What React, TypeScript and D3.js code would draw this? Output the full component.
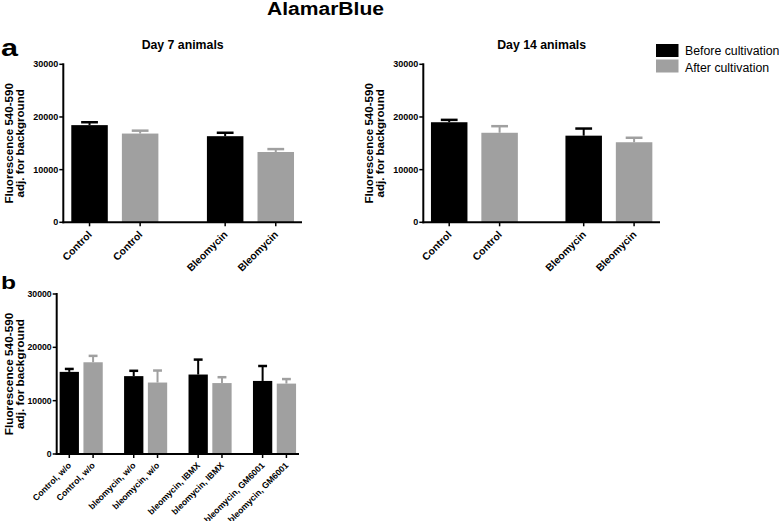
import React from "react";
import * as d3 from "d3";

// ---- data ----
const seriesNames = ["Before cultivation", "After cultivation"];
const seriesColors = ["#000000", "#a0a0a0"];
const yTickValues = [0, 10000, 20000, 30000];

const panelACategories = ["Control", "Bleomycin"];
const day7Before = [18450, 16350];
const day7BeforeErr = [550, 650];
const day7After = [16850, 13350];
const day7AfterErr = [550, 550];

const day14Before = [19000, 16450];
const day14BeforeErr = [450, 1350];
const day14After = [17000, 15200];
const day14AfterErr = [1250, 850];

const panelBCategories = ["Control, w/o", "bleomycin, w/o", "bleomycin, IBMX", "bleomycin, GM6001"];
const bBefore = [15400, 14600, 14900, 13700];
const bBeforeErr = [550, 1000, 2800, 2800];
const bAfter = [17200, 13400, 13300, 13200];
const bAfterErr = [1200, 2250, 1100, 850];

const FONT = "'Liberation Sans', Arial, Helvetica, sans-serif";

type PanelProps = {
  x0: number; x1: number; yTop: number; yBottom: number;
  groups: string[];
  before: number[]; beforeErr: number[];
  after: number[]; afterErr: number[];
  barWidth: number; innerHalf: number;
  labelSize: number; tickFont: number;
  title?: string;
  yTitleOff1: number; yTitleOff2: number; yTitleSize: number;
  labelDx: number; labelDy: number;
};

function Panel(p: PanelProps) {
  const y = d3.scaleLinear().domain([0, 30000]).range([p.yBottom, p.yTop]);
  const gx = d3.scalePoint<string>().domain(p.groups).range([p.x0, p.x1]).padding(0.38);
  const sx = d3.scalePoint<string>().domain(seriesNames).range([-p.innerHalf, p.innerHalf]);
  const vals = [p.before, p.after];
  const errs = [p.beforeErr, p.afterErr];
  const capW = p.barWidth * 0.46;
  const bars: any[] = [];
  p.groups.forEach((g, gi) => {
    seriesNames.forEach((s, si) => {
      const cx = (gx(g) as number) + (sx(s) as number);
      bars.push({ g, s, si, cx, v: vals[si][gi], e: errs[si][gi] });
    });
  });
  const yMid = (p.yTop + p.yBottom) / 2;
  return (
    <g>
      {p.title && (
        <text x={(p.x0 + p.x1) / 2} y={p.yTop - 15} textAnchor="middle" fontFamily={FONT}
          fontWeight="bold" fontSize={12.3}>{p.title}</text>
      )}
      {/* y axis title */}
      <text transform={`translate(${p.x0 - p.yTitleOff1},${yMid}) rotate(-90)`} textAnchor="middle"
        fontFamily={FONT} fontWeight="bold" fontSize={p.yTitleSize}>Fluorescence 540-590</text>
      <text transform={`translate(${p.x0 - p.yTitleOff2},${yMid}) rotate(-90)`} textAnchor="middle"
        fontFamily={FONT} fontWeight="bold" fontSize={p.yTitleSize}>adj. for background</text>
      {/* bars */}
      {bars.map((b, i) => (
        <g key={i}>
          <line x1={b.cx} x2={b.cx} y1={y(b.v)} y2={y(b.v + b.e)} stroke={seriesColors[b.si]} strokeWidth={2} />
          <line x1={b.cx - capW / 2} x2={b.cx + capW / 2} y1={y(b.v + b.e)} y2={y(b.v + b.e)}
            stroke={seriesColors[b.si]} strokeWidth={2.5} />
          <rect x={b.cx - p.barWidth / 2} y={y(b.v)} width={p.barWidth} height={y(0) - y(b.v)}
            fill={seriesColors[b.si]} />
        </g>
      ))}
      {/* y axis */}
      <line x1={p.x0} x2={p.x0} y1={p.yTop - 1} y2={p.yBottom + 1} stroke="#000" strokeWidth={2} />
      {yTickValues.map((t) => (
        <g key={t}>
          <line x1={p.x0 - 4} x2={p.x0} y1={y(t)} y2={y(t)} stroke="#000" strokeWidth={1.5} />
          <text x={p.x0 - 5} y={y(t)} dy="0.35em" textAnchor="end" fontFamily={FONT}
            fontWeight="bold" fontSize={p.tickFont}>{t}</text>
        </g>
      ))}
      {/* x axis */}
      <line x1={p.x0 - 1} x2={p.x1} y1={p.yBottom} y2={p.yBottom} stroke="#000" strokeWidth={2} />
      {bars.map((b, i) => (
        <g key={"t" + i}>
          <line x1={b.cx} x2={b.cx} y1={p.yBottom} y2={p.yBottom + 4} stroke="#000" strokeWidth={1.5} />
          <text transform={`translate(${b.cx + p.labelDx},${p.yBottom + p.labelDy}) rotate(-45)`}
            textAnchor="end" fontFamily={FONT} fontWeight="bold" fontSize={p.labelSize}>{b.g}</text>
        </g>
      ))}
    </g>
  );
}

export default function App() {
  return (
    <svg width={779} height={521} style={{ position: "absolute", left: 0, top: 0, background: "#fff" }}>
      <rect width={779} height={521} fill="#fff" />
      <text x={325.5} y={15} textAnchor="middle" fontFamily={FONT} fontWeight="bold" fontSize={17.5}
        textLength={117} lengthAdjust="spacingAndGlyphs">AlamarBlue</text>
      <text x={1} y={56} fontFamily={FONT} fontWeight="bold" fontSize={24} textLength={17}
        lengthAdjust="spacingAndGlyphs">a</text>
      <text x={1} y={288.5} fontFamily={FONT} fontWeight="bold" fontSize={19} textLength={15}
        lengthAdjust="spacingAndGlyphs">b</text>

      <Panel x0={63.3} x1={302} yTop={64.3} yBottom={222.3} groups={panelACategories}
        before={day7Before} beforeErr={day7BeforeErr} after={day7After} afterErr={day7AfterErr}
        barWidth={36.5} innerHalf={25.3} labelSize={10.3} tickFont={9} title="Day 7 animals"
        yTitleOff1={50.6} yTitleOff2={39.5} yTitleSize={11.6} labelDx={3} labelDy={13} />
      <Panel x0={423.3} x1={660} yTop={64.3} yBottom={222.3} groups={panelACategories}
        before={day14Before} beforeErr={day14BeforeErr} after={day14After} afterErr={day14AfterErr}
        barWidth={36.5} innerHalf={25.2} labelSize={10.3} tickFont={9} title="Day 14 animals"
        yTitleOff1={50.6} yTitleOff2={39.5} yTitleSize={11.6} labelDx={3} labelDy={13} />
      <Panel x0={56.7} x1={299} yTop={294} yBottom={454} groups={panelBCategories}
        before={bBefore} beforeErr={bBeforeErr} after={bAfter} afterErr={bAfterErr}
        barWidth={19.3} innerHalf={11.9} labelSize={8.7} tickFont={8.7}
        yTitleOff1={43.4} yTitleOff2={32.8} yTitleSize={11.8} labelDx={2.5} labelDy={12} />

      {/* legend */}
      {seriesNames.map((s, i) => (
        <g key={s}>
          <rect x={656} y={44 + i * 15.5} width={22.5} height={13} fill={seriesColors[i]} />
          <text x={685} y={55 + i * 16.5} fontFamily={FONT} fontSize={12.3}>{s}</text>
        </g>
      ))}
    </svg>
  );
}
